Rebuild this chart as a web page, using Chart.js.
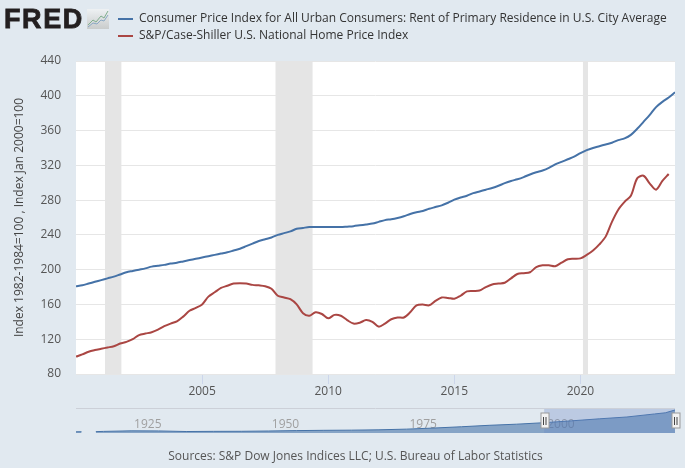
<!DOCTYPE html>
<html><head><meta charset="utf-8">
<script src="https://cdn.jsdelivr.net/npm/chart.js@4"></script>
<style>
html,body{margin:0;padding:0;background:#e1e9f0;width:685px;height:468px;overflow:hidden}
canvas{position:absolute;left:0;display:block}
#logo{position:absolute;left:4px;top:-2px;font:bold 27px "Liberation Sans",sans-serif;line-height:42px;color:#231f20;-webkit-text-stroke:.8px #231f20;letter-spacing:1.6px}
#icon{position:absolute;left:87px;top:9px}
#src{position:absolute;left:13px;width:685px;top:447px;text-align:center;font:12px "Open Sans",sans-serif;color:#555;line-height:18px}
</style></head><body>
<canvas id="main" width="685" height="468" style="top:0;width:685px;height:468px"></canvas>
<canvas id="nav" width="685" height="40" style="top:400px;width:685px;height:40px"></canvas>
<div id="logo">FRED</div>
<svg id="icon" width="22" height="20" viewBox="0 0 22 20"><defs><linearGradient id="g" x1="0" y1="0" x2="0" y2="1"><stop offset="0" stop-color="#eef1f3"/><stop offset="1" stop-color="#c9cccc"/></linearGradient></defs><rect width="22" height="20" fill="url(#g)"/><path d="M1 16 L6 11 L9 13 L14 7 L17 9 L21 2" fill="none" stroke="#7fae8e" stroke-width="1"/><path d="M1 18 L6 14 L10 15 L14 11 L17 12 L21 6" fill="none" stroke="#8aa9c4" stroke-width="1"/></svg>
<div id="src">Sources: S&amp;P Dow Jones Indices LLC; U.S. Bureau of Labor Statistics</div>
<script>
const startYear = 2000;
const rentLabel = "Consumer Price Index for All Urban Consumers: Rent of Primary Residence in U.S. City Average";
const homeLabel = "S&P/Case-Shiller U.S. National Home Price Index";
const yAxisTitle = "Index 1982-1984=100 , Index Jan 2000=100";
// quarterly values, 2000 Q1 onward
const rentValues = [
 181,182,184,186, 188,190,192,194.5, 197,198.5,200,201.5, 203.5,204.5,205.5,207,
 208,209.5,211,212.5, 214,215.5,217,218.5, 220,222,224,227, 230,233,235,237,
 240,242,244,247, 248,249,249,249, 249,249,249,249.5, 250,251,252,253,
 255,257,258,259.5, 261.5,264,266,267.5, 270,272,274,277, 280.5,283,285,288,
 290,292,294,296.5, 299.5,302,304,306.5, 309.5,312,314,317, 321,324,327,330,
 334,337.5,340,342, 344,346,349,351, 355,362,370,378, 387,393,398,404];
const homeValues = [
 100,102.5,105.6,107.5, 109,110.5,112,115, 117,120,124.8,126.5, 128,131,135,138,
 140.5,146,152.7,156, 160,169,174,179, 181.5,184,184.5,184, 182.5,182,181,178,
 170,168,166,160, 150,147,151,149, 144,148,147,142, 138,139,142,140,
 134.5,138,143,145, 145,151,159,160, 159,164,168,167.5, 166.5,170,175,175.5,
 176,180,183,184, 185,190,195,196, 197,203,205,205, 204,208,212,212.5,
 213,217,222,229, 238,255,269,278, 285,305,308,299, 292,302,310];
const recessionStarts = [2001.15, 2007.91, 2020.1];
const recessionEnds = [2001.8, 2009.38, 2020.3];
const xTickValues = [2005,2010,2015,2020];
const yMin = 80, yMax = 440, yStep = 40;
const navYears = [1915,1916,1917,1918.6,1920,1925,1930,1935,1940,1945,1950,1955,1960,1965,1970,1975,1980,1985,1990,1995,2000,2005,2010,2015,2020,2022,2023.75];
const navValues = [21,22,null,24,28,38,36,26,29,30,35,42,47,50,56,68,87,110,135,155,181,214,249,281,334,355,404];
const navTickYears = [1925,1950,1975,2000];
const navSelStart = 2000, navSelEnd = 2023.75;

const BLUE="#4572a7", RED="#aa4643", FONT='"Open Sans",sans-serif';
const toPts = a => a.map((v,i)=>({x:startYear+i/4,y:v}));
Chart.defaults.font.family = FONT;
Chart.defaults.animation = false;

const mainPlugin = {
  id:'mainDecor',
  beforeDraw(c){const a=c.chartArea,g=c.ctx;g.save();g.fillStyle="#fff";g.fillRect(a.left,a.top,a.right-a.left,a.bottom-a.top);g.restore();},
  beforeDatasetsDraw(c){const a=c.chartArea,g=c.ctx,x=c.scales.x;g.save();g.fillStyle="#e5e5e5";
    recessionStarts.forEach((s,i)=>{const l=x.getPixelForValue(s),r=x.getPixelForValue(recessionEnds[i]);g.fillRect(l,a.top,r-l,a.bottom-a.top);});g.restore();},
  afterLayout(c){const l=c.legend;l.left=113;l.right=685;l.top=8;l.bottom=50;}
};
new Chart(document.getElementById('main'),{
  type:'line',
  data:{datasets:[
    {label:rentLabel,data:toPts(rentValues),borderColor:BLUE,backgroundColor:BLUE,borderWidth:2,pointRadius:0,tension:.3,fill:false},
    {label:homeLabel,data:toPts(homeValues),borderColor:RED,backgroundColor:RED,borderWidth:2,pointRadius:0,tension:.3,fill:false}
  ]},
  options:{responsive:false,devicePixelRatio:1,
    layout:{padding:{left:0,right:10,top:61,bottom:68}},
    plugins:{tooltip:{enabled:false},title:{display:false},
      legend:{position:'chartArea',align:'start',labels:{boxWidth:15,boxHeight:2,padding:5,color:"#333",font:{size:12},
        generateLabels:c=>Chart.defaults.plugins.legend.labels.generateLabels(c).map(i=>({...i,lineWidth:0}))}}},
    scales:{
      x:{type:'linear',min:startYear,max:2023.75,
        afterBuildTicks:s=>{s.ticks=xTickValues.map(v=>({value:v}));},
        afterFit:s=>{s.height=26;},
        border:{display:false},
        grid:{drawOnChartArea:false,color:"#ccd6eb",tickLength:10},
        ticks:{callback:v=>String(v),color:"#555",font:{size:12},padding:0,maxRotation:0,autoSkip:false}},
      y:{min:yMin,max:yMax,afterFit:s=>{s.width=76;},
        border:{display:false},
        grid:{color:"#e6e6e6",drawTicks:false,lineWidth:1},
        ticks:{stepSize:yStep,color:"#555",font:{size:12},padding:15},
        title:{display:true,text:yAxisTitle,color:"#444",font:{size:12},padding:{top:12,bottom:0}}}
    }
  },
  plugins:[mainPlugin]
});

const navPlugin = {
  id:'navDecor',
  beforeDatasetsDraw(c){const a=c.chartArea,g=c.ctx,x=c.scales.x;g.save();
    g.font='12px '+FONT;g.fillStyle="#a0a0a0";g.textBaseline="middle";g.textAlign="left";
    navTickYears.forEach(t=>g.fillText(String(t),x.getPixelForValue(t)+3,a.top+17));
    g.restore();},
  afterDatasetsDraw(c){const a=c.chartArea,g=c.ctx,x=c.scales.x;g.save();
    const l=x.getPixelForValue(navSelStart),r=x.getPixelForValue(navSelEnd);
    g.fillStyle="rgba(102,133,194,.3)";g.fillRect(l,a.top,r-l,a.bottom-a.top);
    g.strokeStyle="#ccd0d8";g.lineWidth=1;g.beginPath();g.moveTo(a.left,a.top+.5);g.lineTo(a.right,a.top+.5);g.stroke();
    [l,r].forEach(p=>{const h=Math.round(p)+.5;g.fillStyle="#f2f2f2";g.strokeStyle="#999";g.fillRect(h-3.5,a.top+5,8,15);g.strokeRect(h-3.5,a.top+5,8,15);
      g.strokeStyle="#444";g.beginPath();g.moveTo(h-1,a.top+9);g.lineTo(h-1,a.top+17);g.moveTo(h+1.5,a.top+9);g.lineTo(h+1.5,a.top+17);g.stroke();});
    g.restore();}
};
new Chart(document.getElementById('nav'),{
  type:'line',
  data:{datasets:[{data:navYears.map((y,i)=>({x:y,y:navValues[i]})),borderColor:BLUE,backgroundColor:"rgba(69,114,167,.58)",borderWidth:1,pointRadius:0,fill:'origin',spanGaps:false}]},
  options:{responsive:false,devicePixelRatio:1,
    layout:{padding:{left:76,right:10,top:8,bottom:7}},
    plugins:{legend:{display:false},tooltip:{enabled:false}},
    scales:{x:{type:'linear',display:false,min:1915,max:2023.75},y:{display:false,min:0,max:439}}
  },
  plugins:[navPlugin]
});
</script>
</body></html>
